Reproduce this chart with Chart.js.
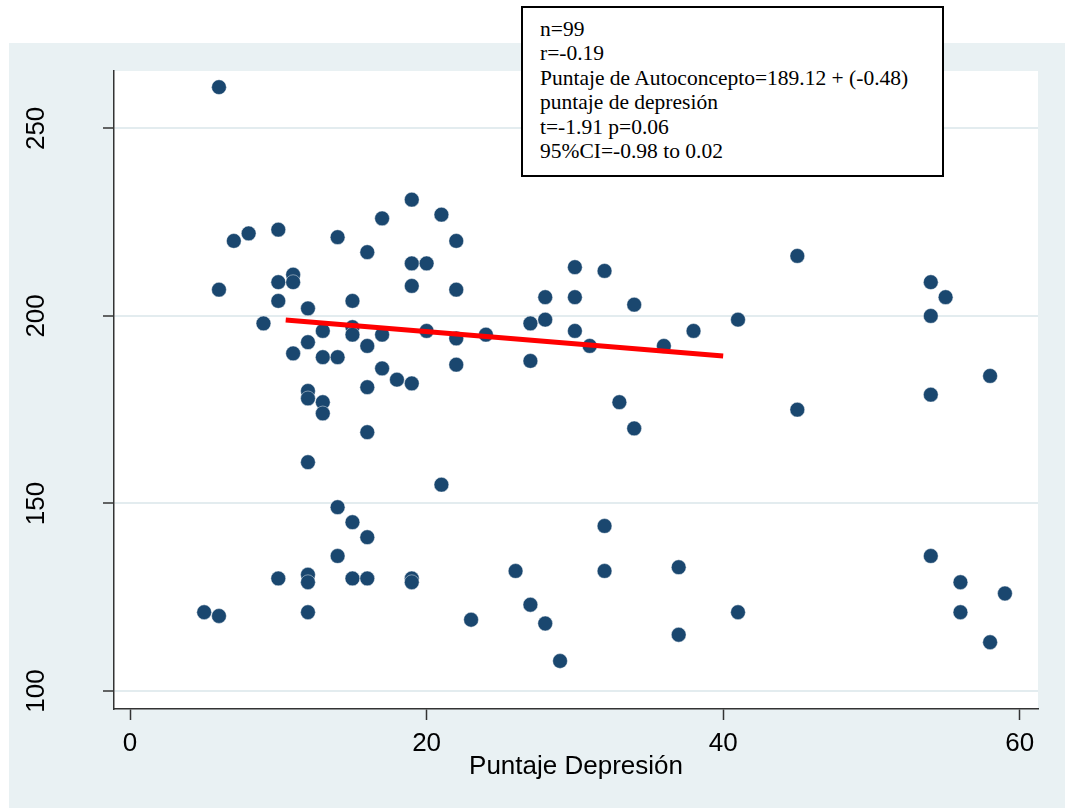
<!DOCTYPE html>
<html>
<head>
<meta charset="utf-8">
<script src="https://cdn.jsdelivr.net/npm/chart.js@4.4.0/dist/chart.umd.min.js"></script>
<style>
  html, body { margin: 0; padding: 0; background: #fff; }
  #wrap { position: relative; width: 1065px; height: 808px; overflow: hidden; }
  #fondo { position: absolute; left: 9px; top: 43px; right: 0; bottom: 0; background: #e9f1f3; }
  #grafico { position: absolute; left: 0; top: 0; }
  #resumen {
    position: absolute; left: 521px; top: 6px; width: 402px; height: 158px;
    border: 2px solid #000; background: #fff;
    padding: 9px 0 0 17px;
    font-family: "Liberation Serif", "Times New Roman", serif;
    font-size: 21.5px; line-height: 24.4px; color: #000; white-space: nowrap;
  }
</style>
</head>
<body>
<div id="wrap">
  <div id="fondo"></div>
  <canvas id="grafico" width="1065" height="808"></canvas>
  <div id="resumen">
    n=99<br>
    r=-0.19<br>
    Puntaje de Autoconcepto=189.12 + (-0.48)<br>
    puntaje de depresión<br>
    t=-1.91 p=0.06<br>
    95%CI=-0.98 to 0.02
  </div>
</div>
<script>
// puntaje de depresión (x) y puntaje de autoconcepto (y), un par por alumno
const depresion = [
  6, 7, 8, 10, 14, 16, 17, 19, 21, 22,
  19, 20, 19, 22, 6, 10, 11, 11, 10, 15,
  12, 9, 13, 15, 15, 17, 20, 22, 12, 16,
  11, 13, 14, 22, 17, 18, 19, 16, 12, 12,
  13, 13, 16, 12, 21, 14, 15, 16, 14, 10,
  12, 12, 15, 16, 19, 19, 5, 6, 12, 23,
  24, 27, 27, 28, 28, 30, 30, 30, 31, 32,
  34, 33, 34, 36, 38, 41, 32, 32, 26, 27,
  28, 29, 37, 37, 41, 45, 45, 54, 55, 54,
  58, 54, 54, 56, 59, 56, 58
];
const autoconcepto = [
  261, 220, 222, 223, 221, 217, 226, 231, 227, 220,
  214, 214, 208, 207, 207, 209, 211, 209, 204, 204,
  202, 198, 196, 197, 195, 195, 196, 194, 193, 192,
  190, 189, 189, 187, 186, 183, 182, 181, 180, 178,
  177, 174, 169, 161, 155, 149, 145, 141, 136, 130,
  131, 129, 130, 130, 130, 129, 121, 120, 121, 119,
  195, 198, 188, 205, 199, 213, 205, 196, 192, 212,
  203, 177, 170, 192, 196, 199, 144, 132, 132, 123,
  118, 108, 133, 115, 121, 216, 175, 209, 205, 200,
  184, 179, 136, 129, 126, 121, 113
];

// recta ajustada (extremos)
const rectaX = [10.5, 40];
const rectaY = [198.9, 189.3];

const ticksX = [0, 20, 40, 60];
const ticksY = [100, 150, 200, 250];

const puntos = depresion.map((x, i) => ({ x: x, y: autoconcepto[i] }));
const recta = rectaX.map((x, i) => ({ x: x, y: rectaY[i] }));

const fuenteEje = { family: 'Liberation Sans, Arial, sans-serif', size: 26 };

// pinta de blanco la región de trazado
const areaBlanca = {
  id: 'areaBlanca',
  beforeDraw(chart) {
    const a = chart.chartArea;
    const ctx = chart.ctx;
    ctx.save();
    ctx.fillStyle = '#ffffff';
    ctx.fillRect(a.left, a.top, a.right - a.left, a.bottom - a.top);
    ctx.restore();
  }
};

new Chart(document.getElementById('grafico'), {
  type: 'scatter',
  data: {
    datasets: [
      {
        data: recta,
        showLine: true,
        borderColor: '#ff0000',
        borderWidth: 5,
        borderCapStyle: 'butt',
        pointRadius: 0,
        order: 0
      },
      {
        data: puntos,
        backgroundColor: '#1a476f',
        borderColor: 'rgba(255,255,255,0.55)',
        borderWidth: 0.8,
        pointRadius: 7.4,
        pointHoverRadius: 7.4,
        order: 1
      }
    ]
  },
  options: {
    responsive: false,
    animation: false,
    layout: { padding: { top: 71, right: 27, left: 0, bottom: 0 } },
    plugins: { legend: { display: false }, tooltip: { enabled: false } },
    scales: {
      x: {
        type: 'linear',
        position: 'bottom',
        min: -1.08,
        max: 61.23,
        afterBuildTicks: s => { s.ticks = ticksX.map(v => ({ value: v })); },
        afterFit: s => { s.height = 99; },
        grid: { drawOnChartArea: false, drawTicks: true, tickLength: 11, tickColor: '#333', tickWidth: 1.5 },
        border: { display: true, color: '#333', width: 1.5 },
        ticks: { autoSkip: false, font: fuenteEje, color: '#000', padding: 8, maxRotation: 0 },
        title: {
          display: true,
          text: 'Puntaje Depresión',
          font: fuenteEje,
          color: '#000',
          padding: { top: 0, bottom: 26 }
        }
      },
      y: {
        type: 'linear',
        position: 'left',
        min: 95.2,
        max: 265.3,
        afterBuildTicks: s => { s.ticks = ticksY.map(v => ({ value: v })); },
        afterFit: s => { s.width = 114; },
        grid: { color: '#e3ecef', lineWidth: 2, drawTicks: true, tickLength: 11, tickColor: '#333', tickWidth: 1.5 },
        border: { display: true, color: '#333', width: 1.5 },
        ticks: {
          autoSkip: false, font: fuenteEje, color: '#000',
          minRotation: 90, maxRotation: 90, crossAlign: 'center', padding: 44
        }
      }
    }
  },
  plugins: [areaBlanca]
});
</script>
</body>
</html>
